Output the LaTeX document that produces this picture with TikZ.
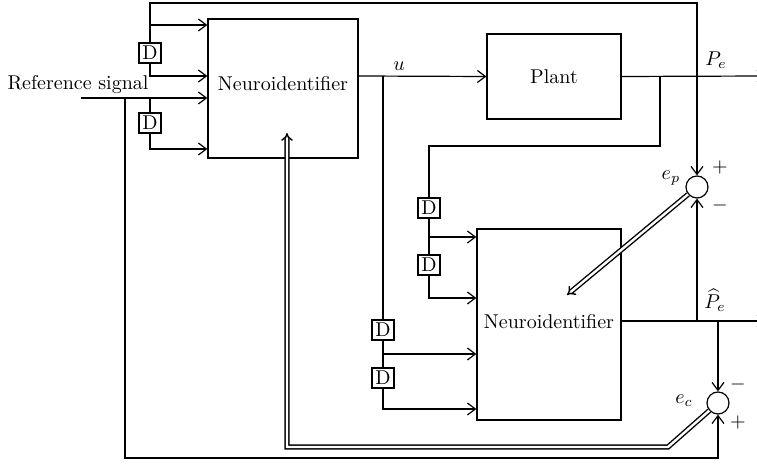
\documentclass[tikz,border=0pt]{standalone}
\usetikzlibrary{arrows.meta}
\begin{document}
\begin{tikzpicture}[x=0.5pt,y=-0.5pt,
  every node/.style={font=\fontsize{10}{12}\selectfont},
  wire/.style={line width=0.6pt},
  arr/.style={wire,-{Straight Barb[length=4pt,width=6pt,line width=0.6pt]}},
  blockbox/.style={draw,line width=0.6pt,inner sep=0pt},
  dbox/.style={draw,line width=0.6pt,inner sep=0pt,minimum width=11pt,minimum height=10pt},
  sumc/.style={draw,circle,line width=0.6pt,inner sep=0pt,minimum size=11pt},
  dbl/.style={double,double distance=1.2pt,line width=0.7pt,-{Implies[length=3.5pt,width=7pt]}}]
\useasboundingbox (0,0) rectangle (757,464);
% blocks
\node[blockbox,minimum width=75pt,minimum height=69.5pt] (N1) at (283,88.5) {};
\node (N1t) at (283,84) {Neuroidentifier};
\node[blockbox,minimum width=67pt,minimum height=42.5pt] (P) at (554,76.5) {Plant};
\node[blockbox,minimum width=72pt,minimum height=95.5pt] (N2) at (549,324.5) {};
\node (N2t) at (549,322) {Neuroidentifier};
\node[dbox] (D1) at (150,53) {D};
\node[dbox] (D2) at (150,123) {D};
\node[dbox] (D3) at (429,208) {D};
\node[dbox] (D4) at (429,265) {D};
\node[dbox] (D5) at (383,330) {D};
\node[dbox] (D6) at (383,378) {D};
\node[sumc] (Ep) at (697,187) {};
\node[sumc] (Ec) at (718,403) {};
% labels
\node[anchor=base] (rsl) at (78,90) {Reference signal};
\node (ul) at (399,66) {$u$};
\node (pel) at (716,60) {$P_e$};
\node (phl) at (715,300) {$\widehat{P}_e$};
\node (epl) at (671,178) {$e_p$};
\node (ecl) at (684,401) {$e_c$};
\node (epp) at (720,168) {$+$};
\node (epm) at (720,206) {$-$};
\node (ecm) at (738,385) {$-$};
\node (ecp) at (738,423) {$+$};
% coordinates
\coordinate (t1) at (150,3);
\coordinate (j1) at (150,25);
\coordinate (j2) at (150,76);
\coordinate (rs) at (81,98);
\coordinate (j3) at (150,98);
\coordinate (j4) at (125,98);
\coordinate (b1) at (125,458);
\coordinate (j2b) at (150,149);
\coordinate (u0) at (358,76);
\coordinate (j5) at (383,76);
\coordinate (j6) at (383,354);
\coordinate (j6b) at (383,409);
\coordinate (j7) at (660,76);
\coordinate (k1) at (429,146);
\coordinate (j8) at (429,237);
\coordinate (j8b) at (429,298);
\coordinate (pe) at (766,76);
\coordinate (o2) at (621,321);
\coordinate (phe) at (766,321);
\coordinate (j9) at (697,321);
\coordinate (j10) at (718,321);
\coordinate (a2) at (567,295);
\coordinate (c1) at (668,447);
\coordinate (c2) at (287,447);
\coordinate (a1) at (287,133);
% wires
\draw[arr] (D1.north) -- (t1) -| (Ep.north);
\draw[arr] (j1) -- (j1 -| N1.west);
\draw[arr] (D1.south) |- (j2 -| N1.west);
\draw[arr] (rs) -- (rs -| N1.west);
\draw[wire] (j3) -- (D2.north);
\draw[arr] (D2.south) |- (j2b -| N1.west);
\draw[arr] (j4) -- (b1) -| (Ec.south);
\draw[arr] (u0) -- (P.west);
\draw[wire] (j5) -- (D5.north);
\draw[wire] (D5.south) -- (D6.north);
\draw[arr] (j6) -- (j6 -| N2.west);
\draw[arr] (D6.south) |- (j6b -| N2.west);
\draw[arr] (P.east) -- (pe);
\draw[wire] (j7) |- (k1) -- (D3.north);
\draw[wire] (D3.south) -- (D4.north);
\draw[arr] (j8) -- (j8 -| N2.west);
\draw[arr] (D4.south) |- (j8b -| N2.west);
\draw[arr] (o2) -- (phe);
\draw[arr] (j9) -- (Ep.south);
\draw[arr] (j10) -- (Ec.north);
\draw[dbl] (Ep) -- (a2);
\draw[dbl] (Ec) -- (c1) -- (c2) -- (a1);
\end{tikzpicture}
\end{document}
